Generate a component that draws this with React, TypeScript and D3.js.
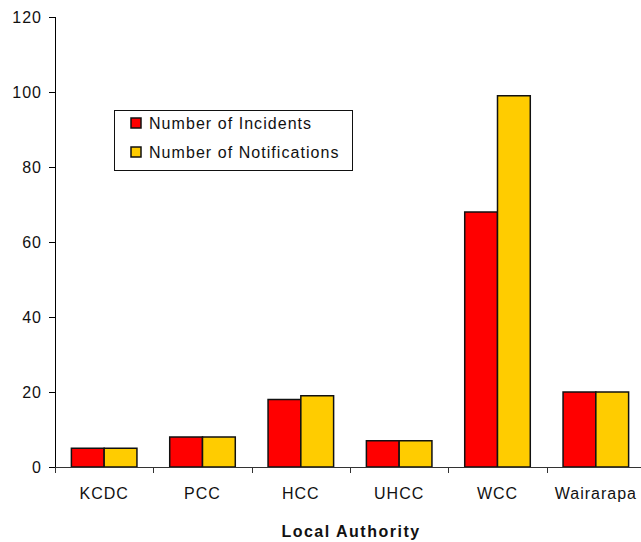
import * as d3 from "d3";

const authorities = ["KCDC", "PCC", "HCC", "UHCC", "WCC", "Wairarapa"];
const incidents = [5, 8, 18, 7, 68, 20];
const notifications = [5, 8, 19, 7, 99, 20];
const yTicks = [0, 20, 40, 60, 80, 100, 120];

const series = [
  { name: "Number of Incidents", color: "#FF0000", values: incidents },
  { name: "Number of Notifications", color: "#FFCC00", values: notifications },
];

const W = 641;
const H = 542;
const font = "Arial, 'Liberation Sans', sans-serif";

export default function App() {
  const x = d3.scaleBand<string>().domain(authorities).range([55, 645]).paddingInner(0).paddingOuter(0);
  const y = d3.scaleLinear().domain([0, 120]).range([467, 17]);
  const inner = d3.scaleBand<number>().domain([0, 1]).range([0, x.bandwidth()]).paddingOuter(0.5).paddingInner(0);

  return (
    <svg width={W} height={H} style={{ position: "absolute", left: 0, top: 0, background: "#fff" }} fontFamily={font}>
      {/* bars */}
      {authorities.map((a, i) => (
        <g key={a} transform={`translate(${x(a)},0)`}>
          {series.map((s, j) => (
            <rect
              key={s.name}
              x={inner(j)!}
              y={y(s.values[i])}
              width={inner.bandwidth()}
              height={y(0) - y(s.values[i])}
              fill={s.color}
              stroke="#111"
              strokeWidth={1.5}
            />
          ))}
        </g>
      ))}

      {/* y axis */}
      <line x1={55.5} x2={55.5} y1={y(120)} y2={y(0)} stroke="#000" strokeWidth={1} />
      {yTicks.map(t => (
        <g key={t}>
          <line x1={49} x2={55.5} y1={Math.round(y(t)) + 0.5} y2={Math.round(y(t)) + 0.5} stroke="#000" />
          <text x={42} y={y(t)} dy="0.35em" textAnchor="end" fontSize={16} letterSpacing={1} fill="#111">{t}</text>
        </g>
      ))}

      {/* x axis */}
      <line x1={55} x2={W} y1={467.5} y2={467.5} stroke="#333" strokeWidth={1} />
      {authorities.map(a => (
        <line key={a} x1={Math.round(x(a)!) + 0.5} x2={Math.round(x(a)!) + 0.5} y1={467} y2={473} stroke="#333" />
      ))}
      {authorities.map(a => (
        <text key={a} x={x(a)! + x.bandwidth() / 2} y={499} textAnchor="middle" fontSize={16} letterSpacing={1} fill="#111">{a}</text>
      ))}
      <text x={351} y={537} textAnchor="middle" fontSize={16} fontWeight="bold" letterSpacing={1.5} fill="#111">Local Authority</text>

      {/* legend */}
      <rect x={114.5} y={110.5} width={238} height={60} fill="#fff" stroke="#111" strokeWidth={1} />
      {series.map((s, j) => (
        <g key={s.name} transform={`translate(131,${123 + j * 29})`}>
          <rect x={0} y={-5} width={10} height={10} fill={s.color} stroke="#111" strokeWidth={1.5} />
          <text x={18} y={0} dy="0.35em" fontSize={16} letterSpacing={1.05} fill="#111">{s.name}</text>
        </g>
      ))}
    </svg>
  );
}
